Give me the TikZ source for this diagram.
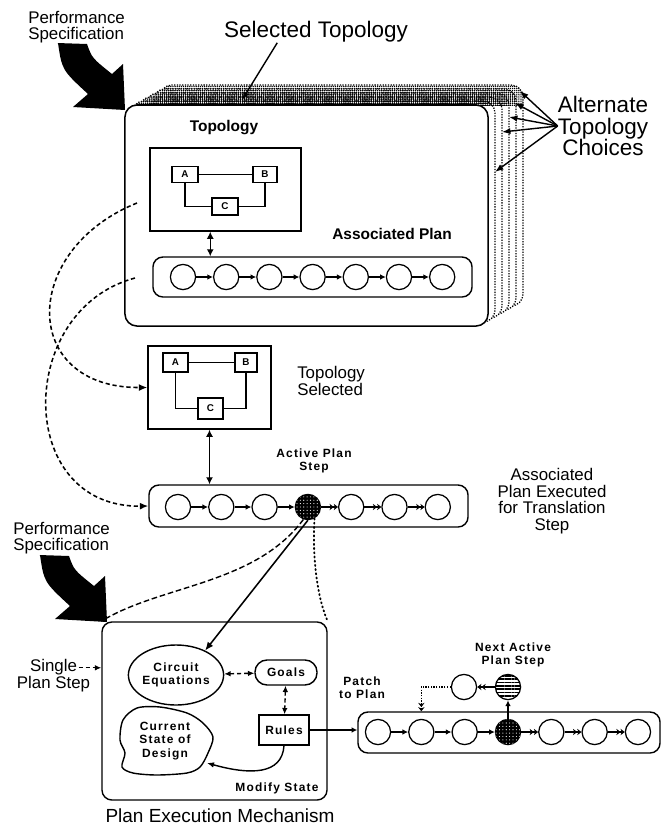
\documentclass[tikz,border=0pt]{standalone}
\usepackage{fontspec}
\setmainfont{Liberation Sans}
\newfontfamily\tagfont[LetterSpace=10]{Liberation Sans}
\usetikzlibrary{arrows.meta, shapes.geometric, patterns, patterns.meta, calc}
\tikzset{
  card/.style={draw, line width=1.1pt, rounded corners=3mm, fill=white, inner sep=0},
  topobox/.style={draw, line width=1pt, inner sep=0},
  part/.style={draw, line width=0.9pt, inner sep=0, minimum width=6.5mm, minimum height=4mm, font=\bfseries\fontsize{7}{7}\selectfont},
  planbar/.style={draw, line width=1pt, rounded corners=2.5mm, inner sep=0},
  planstep/.style={circle, draw, line width=0.9pt, minimum size=6.3mm, inner sep=0},
  active/.style={planstep, fill=black, postaction={pattern={Dots[distance=2.4pt, radius=0.4pt]}, pattern color=white}},
  nextstep/.style={planstep, pattern={Lines[distance=2.4pt, line width=1.2pt]}},
  tag/.style={font=\tagfont\bfseries\fontsize{8.5}{9.5}\selectfont, align=center, inner sep=0},
  lbl/.style={font=\fontsize{12}{11}\selectfont, align=center, inner sep=0},
  big/.style={font=\fontsize{16}{15.5}\selectfont, align=center, inner sep=0},
  flow/.style={line width=0.9pt, -{Latex[length=4pt,width=4pt]}},
  fuzz/.style={line width=0.9pt, -{Stealth[length=3pt,width=4.5pt]Stealth[length=3pt,width=4.5pt]}},
  link/.style={line width=1pt, {Latex[length=5pt,width=5pt]}-{Latex[length=5pt,width=5pt]}},
  trail/.style={line width=1.1pt, dash pattern=on 3pt off 2pt, -{Latex[length=6pt,width=5pt]}}
}
\begin{document}
\begin{tikzpicture}[x=0.025cm, y=-0.025cm]
  \useasboundingbox (0,0) rectangle (667,831);

  % Stack of alternate topology cards
  \foreach \i in {5,...,1}
    \draw[densely dotted, line width=0.9pt, rounded corners=3mm, fill=white]
      ({125+7*\i},{105-4*\i}) rectangle ({488+7*\i},{326-4*\i});
  \begin{scope}
    \clip (0,0) rectangle (667,105);
    \foreach \i in {5,...,1}
      \fill[pattern={Dots[distance=1.5pt, radius=0.55pt]}, rounded corners=3mm]
        ({125+7*\i},{105-4*\i}) rectangle ({488+7*\i},{326-4*\i});
  \end{scope}
  \node[card, minimum width=90.75mm, minimum height=55.25mm] (card) at (306.5,215.5) {};

  % Topology inside the card
  \node[font=\bfseries\fontsize{11}{11}\selectfont] (toplbl) at (224,128) {Topology};
  \node[topobox, minimum width=37.75mm, minimum height=20.75mm] (topo1) at (225.5,189.5) {};
  \node[part] (a1) at (185,174.5) {A};
  \node[part, minimum width=6mm] (b1) at (265,174.5) {B};
  \node[part, minimum height=4.25mm] (c1) at (225,206.5) {C};
  \draw[line width=0.9pt] (a1) -- (b1);
  \draw[line width=0.9pt] (a1.south) |- (c1.west);
  \draw[line width=0.9pt] (b1.south) |- (c1.east);

  % Associated plan
  \node[font=\bfseries\fontsize{11}{11}\selectfont] (asslbl) at (392,234) {Associated Plan};
  \node[planbar, minimum width=79.75mm, minimum height=10mm] (plan1) at (312.5,277) {};
  \foreach \i in {1,...,7}
    \node[planstep] (p\i) at ({183+43.2*(\i-1)},277) {};
  \foreach \a/\b in {1/2,2/3,3/4,4/5,5/6,6/7}
    \draw[flow] (p\a) -- (p\b);
  \coordinate (u1) at ($(topo1.south west)!0.4!(topo1.south east)$);
  \draw[link] (u1) -- (u1 |- plan1.north);

  % Selected topology
  \node[topobox, minimum width=30.75mm, minimum height=20.75mm] (topo2) at (209.5,387.5) {};
  \node[part, minimum width=6.25mm, minimum height=4.75mm] (a2) at (175.5,362.5) {A};
  \node[part, minimum width=5.5mm, minimum height=4.75mm] (b2) at (246,362.5) {B};
  \node[part, minimum width=6.25mm, minimum height=5.25mm] (c2) at (210.5,408.5) {C};
  \draw[line width=0.9pt] (a2) -- (b2);
  \draw[line width=0.9pt] (a2.south) |- (c2.west);
  \draw[line width=0.9pt] (b2.south) |- (c2.east);
  \node[lbl, align=left, anchor=west] (sellbl) at (297,381) {Topology\\Selected};

  % Executed plan
  \node[planbar, minimum width=79.75mm, minimum height=10.5mm] (plan2) at (308.5,506) {};
  \foreach \i in {1,2,3,5,6,7}
    \node[planstep] (q\i) at ({178+43.3*(\i-1)},507) {};
  \node[active] (q4) at (307.9,507) {};
  \foreach \a/\b in {1/2,2/3,3/4}
    \draw[flow] (q\a) -- (q\b);
  \foreach \a/\b in {4/5,5/6,6/7}
    \draw[fuzz] (q\a) -- (q\b);
  \draw[link] (topo2.south) -- (topo2.south |- plan2.north);
  \node[tag] (actlbl) at (314,461) {Active Plan\\Step};
  \node[lbl, font=\fontsize{12}{11.7}\selectfont] (execlbl) at (552,501) {Associated\\Plan Executed\\for Translation\\Step};

  % Performance specifications
  \node[lbl, align=left, anchor=west] (perf1) at (28,27) {Performance\\Specification};
  \node[lbl, align=left, anchor=west] (perf2) at (13,538) {Performance\\Specification};
  \foreach \dx/\dy in {0/0,-18/512}
    \fill[shift={(\dx,\dy)}] (57,43) -- (87,44) .. controls (92,58) .. (112,74) -- (123,64)
      -- (125,110) -- (73,107) -- (88,94) .. controls (62,70) .. (58,43) -- cycle;

  % Labels on top
  \node[big] (sel) at (316,32) {Selected Topology};
  \coordinate (selfoot) at ($(sel.south west)!0.29!(sel.south east)$);
  \coordinate (seltip) at (242,100);
  \draw[line width=1pt, -{Latex[length=6pt,width=4.5pt]}] (selfoot) -- (seltip);
  \node[big] (alt) at (603,126) {Alternate\\Topology\\Choices};
  \foreach \x/\y [count=\k] in {520/91,515/103,509/117,502/132,495/172}
    \coordinate (alt\k) at (\x,\y);
  \foreach \k in {1,...,5}
    \draw[line width=1pt, -{Latex[length=6pt,width=4.5pt]}] (alt.west) -- (alt\k);

  % Curves to the selected topology and plan
  \coordinate (from1) at (137,203);
  \coordinate (from2) at (135,278);
  \draw[trail] (from1) .. controls (20,250) and (20,388) .. (topo2.west);
  \draw[trail] (from2) .. controls (15,310) and (15,508) .. (plan2.west);

  % Plan execution mechanism
  \node[card, line width=1pt, rounded corners=2.5mm, minimum width=56.25mm, minimum height=44.5mm] (pem) at (214.5,711) {};
  \node[ellipse, draw, line width=1pt, tag, minimum width=19.5mm, minimum height=15mm] (ce) at (176,675) {Circuit\\Equations};
  \node[draw, line width=1pt, tag, rounded corners=3mm, minimum width=15.5mm, minimum height=6.25mm] (goals) at (286,672.5) {Goals};
  \node[draw, line width=1pt, tag, minimum width=12.5mm, minimum height=7.5mm] (rules) at (284,730) {Rules};
  \node[tag, ellipse, minimum width=22mm, minimum height=17mm] (state) at (165,741) {Current\\State of\\Design};
  \draw[line width=1pt] plot[smooth cycle] coordinates {(123,720) (137,708) (160,707) (187,713) (203,723)
    (213,737) (208,753) (200,767) (187,773) (157,775) (133,773) (122,767) (125,753) (120,740)};
  \node[tag] (modlbl) at (277,788) {Modify State};
  \coordinate (stateedge) at (207,763);
  \draw[line width=1pt, -{Latex[length=5pt,width=4pt]}] (rules.south) .. controls (282,775) and (250,775) .. (stateedge);
  \draw[line width=1pt, densely dashed, {Latex[length=4.5pt,width=4pt]}-{Latex[length=4.5pt,width=4pt]}] (ce) -- (goals);
  \draw[line width=1pt, densely dashed, {Latex[length=4.5pt,width=4pt]}-{Latex[length=4.5pt,width=4pt]}] (goals) -- (rules);
  \node[lbl, font=\fontsize{12}{10.5}\selectfont] (single) at (53.5,676) {Single\\Plan Step};
  \coordinate (singleend) at ($(single.north)+(25,8.5)$);
  \draw[line width=0.9pt, densely dashed, -{Latex[length=4.5pt,width=4pt]}] (singleend) -- (singleend -| pem.west);
  \node[font=\fontsize{13.5}{13.5}\selectfont] (pemlbl) at (220,816) {Plan Execution Mechanism};

  % Links from the active step
  \draw[line width=1.1pt, -{Latex[length=6pt,width=5pt]}] (q4.south) -- (ce.40);
  \draw[line width=1pt, dash pattern=on 4pt off 2pt] (q4.250) .. controls (255,585) and (160,585) .. (pem.north west);
  \draw[line width=1.3pt, dash pattern=on 0.8pt off 2.2pt, line cap=round] (q4.-60) .. controls (312,560) and (318,600) .. (pem.north east);

  % Patched plan
  \node[planbar, minimum width=75.5mm, minimum height=10.25mm] (plan3) at (509,732.5) {};
  \foreach \i in {1,2,3,5,6,7}
    \node[planstep] (r\i) at ({378+43.33*(\i-1)},732) {};
  \node[active] (r4) at (508,732) {};
  \foreach \a/\b in {1/2,2/3,3/4}
    \draw[flow] (r\a) -- (r\b);
  \foreach \a/\b in {4/5,5/6,6/7}
    \draw[fuzz] (r\a) -- (r\b);
  \draw[flow] (rules.east) -- (rules.east -| plan3.west);
  \node[tag] (patchlbl) at (362,688) {Patch\\to Plan};
  \node[nextstep] (na) at (508,687) {};
  \node[planstep] (nb) at (464,687) {};
  \draw[flow] (r4) -- (na);
  \draw[fuzz] (na) -- (nb);
  \draw[fuzz, densely dotted] (nb.west) -| (r2 |- plan3.north);
  \node[tag] (nextlbl) at (513,655) {Next Active\\Plan Step};
\end{tikzpicture}
\end{document}
